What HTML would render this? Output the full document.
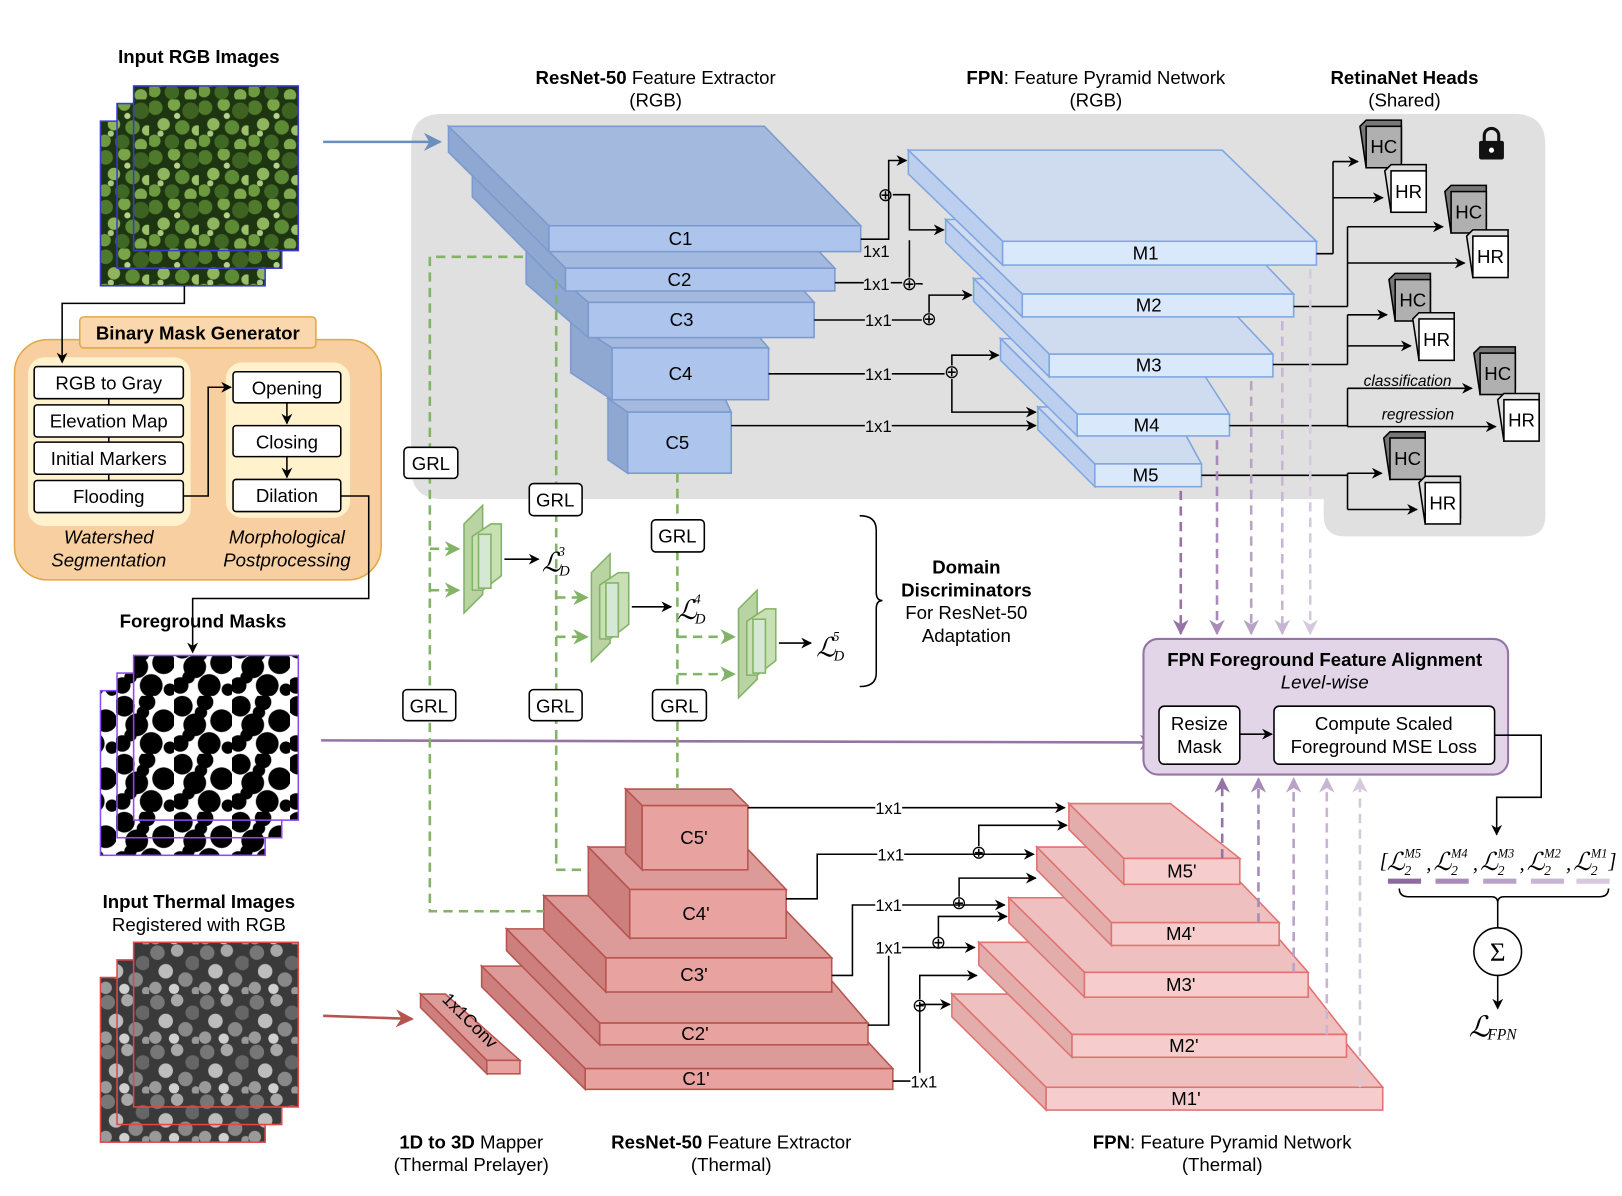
<!DOCTYPE html>
<html><head><meta charset="utf-8"><style>
html,body{margin:0;padding:0;background:#fff}
svg{display:block;font-family:"Liberation Sans",sans-serif;font-size:18px}
.b{font-weight:bold}
.it{font-style:italic}
.m{font-family:"Liberation Serif","DejaVu Serif",serif;font-style:italic}
</style></head><body>
<svg id="s" width="1622" height="1196" viewBox="0 0 1566 1155" preserveAspectRatio="none" xmlns="http://www.w3.org/2000/svg">
<defs>
<marker id="a" viewBox="0 0 10 10" refX="9" refY="5" markerWidth="7" markerHeight="7" orient="auto-start-reverse"><path d="M0,0L10,5L0,10L3,5z" fill="#000"/></marker>
<marker id="ab" viewBox="0 0 10 10" refX="9" refY="5" markerWidth="7" markerHeight="7" orient="auto"><path d="M0,0L10,5L0,10L3,5z" fill="#6c8ebf"/></marker>
<marker id="ar" viewBox="0 0 10 10" refX="9" refY="5" markerWidth="7" markerHeight="7" orient="auto"><path d="M0,0L10,5L0,10L3,5z" fill="#b85450"/></marker>
<marker id="ag" viewBox="0 0 10 10" refX="9" refY="5" markerWidth="6" markerHeight="6" orient="auto"><path d="M0,0L10,5L0,10L3,5z" fill="#82b366"/></marker>
<marker id="p0" viewBox="0 0 10 10" refX="9" refY="5" markerWidth="6" markerHeight="6" orient="auto"><path d="M0,0L10,5L0,10L3,5z" fill="#9673a6"/></marker>
<marker id="p1" viewBox="0 0 10 10" refX="9" refY="5" markerWidth="6" markerHeight="6" orient="auto"><path d="M0,0L10,5L0,10L3,5z" fill="#a88bb8"/></marker>
<marker id="p2" viewBox="0 0 10 10" refX="9" refY="5" markerWidth="6" markerHeight="6" orient="auto"><path d="M0,0L10,5L0,10L3,5z" fill="#b9a2c7"/></marker>
<marker id="p3" viewBox="0 0 10 10" refX="9" refY="5" markerWidth="6" markerHeight="6" orient="auto"><path d="M0,0L10,5L0,10L3,5z" fill="#c7b5d3"/></marker>
<marker id="p4" viewBox="0 0 10 10" refX="9" refY="5" markerWidth="6" markerHeight="6" orient="auto"><path d="M0,0L10,5L0,10L3,5z" fill="#d6c9de"/></marker>
<pattern id="forest" width="48" height="48" patternUnits="userSpaceOnUse">
<rect width="48" height="48" fill="#1e3512"/>
<circle cx="6" cy="8" r="7" fill="#4f7a2b"/><circle cx="24" cy="5" r="6" fill="#7aa448"/><circle cx="40" cy="11" r="8" fill="#3d6222"/>
<circle cx="14" cy="24" r="6" fill="#8fb55e"/><circle cx="32" cy="27" r="7" fill="#5d8a35"/><circle cx="46" cy="30" r="5" fill="#9cc06a"/>
<circle cx="5" cy="40" r="6" fill="#6d9a3e"/><circle cx="22" cy="41" r="7" fill="#3f6824"/><circle cx="40" cy="44" r="6" fill="#7fa94e"/>
<circle cx="27" cy="16" r="3" fill="#b5d38a"/><circle cx="11" cy="33" r="3" fill="#a9c97e"/>
</pattern>
<pattern id="mask" width="56" height="56" patternUnits="userSpaceOnUse">
<rect width="56" height="56" fill="#fff"/>
<circle cx="8" cy="10" r="10" fill="#000"/><circle cx="30" cy="6" r="8" fill="#000"/><circle cx="46" cy="24" r="11" fill="#000"/>
<circle cx="20" cy="28" r="11" fill="#000"/><circle cx="6" cy="46" r="8" fill="#000"/><circle cx="34" cy="46" r="11" fill="#000"/>
<circle cx="26" cy="16" r="6" fill="#000"/><circle cx="52" cy="50" r="6" fill="#000"/><circle cx="14" cy="38" r="6" fill="#000"/>
</pattern>
<pattern id="therm" width="48" height="48" patternUnits="userSpaceOnUse">
<rect width="48" height="48" fill="#3a3a3a"/>
<circle cx="8" cy="8" r="7" fill="#777"/><circle cx="27" cy="6" r="6" fill="#a8a8a8"/><circle cx="42" cy="18" r="7" fill="#666"/>
<circle cx="16" cy="26" r="7" fill="#bdbdbd"/><circle cx="35" cy="34" r="7" fill="#888"/><circle cx="6" cy="42" r="6" fill="#9a9a9a"/>
<circle cx="24" cy="43" r="5" fill="#d0d0d0"/><circle cx="45" cy="45" r="4" fill="#999"/>
</pattern>
</defs>

<path d="M427,110 H1462 Q1492,110 1492,140 V498 Q1492,518 1472,518 H1298 Q1278,518 1278,498 V482 H427 Q397,482 397,452 V140 Q397,110 427,110 Z" fill="#e0e0e0"/>

<g text-anchor="middle">
<text x="192" y="61" class="b">Input RGB Images</text>
<text x="633" y="81"><tspan class="b">ResNet-50</tspan> Feature Extractor</text>
<text x="633" y="103">(RGB)</text>
<text x="1058" y="81"><tspan class="b">FPN</tspan>: Feature Pyramid Network</text>
<text x="1058" y="103">(RGB)</text>
<text x="1356" y="81" class="b">RetinaNet Heads</text>
<text x="1356" y="103">(Shared)</text>
<text x="196" y="606" class="b">Foreground Masks</text>
<text x="192" y="877" class="b">Input Thermal Images</text>
<text x="192" y="899">Registered with RGB</text>
<text x="455" y="1109"><tspan class="b">1D to 3D</tspan> Mapper</text>
<text x="455" y="1131">(Thermal Prelayer)</text>
<text x="706" y="1109"><tspan class="b">ResNet-50</tspan> Feature Extractor</text>
<text x="706" y="1131">(Thermal)</text>
<text x="1180" y="1109"><tspan class="b">FPN</tspan>: Feature Pyramid Network</text>
<text x="1180" y="1131">(Thermal)</text>
<text x="933" y="554" class="b">Domain</text>
<text x="933" y="576" class="b">Discriminators</text>
<text x="933" y="598">For ResNet-50</text>
<text x="933" y="620">Adaptation</text>
</g>

<g stroke="#3a3ad0" stroke-width="1.5">
<rect x="97" y="117" width="159" height="159" fill="url(#forest)"/>
<rect x="113" y="100" width="159" height="159" fill="url(#forest)"/>
<rect x="129" y="83" width="159" height="159" fill="url(#forest)"/>
</g>
<g stroke="#8a4cf0" stroke-width="1.5">
<rect x="97" y="667" width="159" height="159" fill="url(#mask)"/>
<rect x="113" y="650" width="159" height="159" fill="url(#mask)"/>
<rect x="129" y="633" width="159" height="159" fill="url(#mask)"/>
</g>
<g stroke="#e04848" stroke-width="1.5">
<rect x="97" y="944" width="159" height="159" fill="url(#therm)"/>
<rect x="113" y="927" width="159" height="159" fill="url(#therm)"/>
<rect x="129" y="910" width="159" height="159" fill="url(#therm)"/>
</g>

<line x1="312" y1="137" x2="425" y2="137" stroke="#6c8ebf" stroke-width="2.5" marker-end="url(#ab)"/>
<line x1="312" y1="981" x2="398" y2="984" stroke="#b85450" stroke-width="2.5" marker-end="url(#ar)"/>
<line x1="310" y1="715" x2="1114" y2="717" stroke="#9673a6" stroke-width="2.5" marker-end="url(#p0)"/>

<g>
<rect x="14" y="328" width="354" height="232" rx="32" fill="#f8cfa0" stroke="#e0a848" stroke-width="1.5"/>
<rect x="27" y="345" width="157" height="163" rx="16" fill="#fff2cc"/>
<rect x="218" y="350" width="120" height="150" rx="16" fill="#fff2cc"/>
<rect x="77" y="306" width="228" height="30" rx="4" fill="#fad7ac" stroke="#e0a848" stroke-width="1.5"/>
<text x="191" y="328" text-anchor="middle" class="b">Binary Mask Generator</text>
<g fill="#fff" stroke="#000" stroke-width="1.5">
<rect x="33" y="354" width="144" height="31" rx="3"/><rect x="33" y="391" width="144" height="31" rx="3"/>
<rect x="33" y="427" width="144" height="31" rx="3"/><rect x="33" y="464" width="144" height="31" rx="3"/>
<rect x="225" y="359" width="104" height="30" rx="3"/><rect x="225" y="411" width="104" height="30" rx="3"/>
<rect x="225" y="463" width="104" height="31" rx="3"/>
</g>
<g text-anchor="middle">
<text x="105" y="376">RGB to Gray</text><text x="105" y="413">Elevation Map</text>
<text x="105" y="449">Initial Markers</text><text x="105" y="486">Flooding</text>
<text x="277" y="381">Opening</text><text x="277" y="433">Closing</text><text x="277" y="485">Dilation</text>
<text x="105" y="525" class="it">Watershed</text><text x="105" y="547" class="it">Segmentation</text>
<text x="277" y="525" class="it">Morphological</text><text x="277" y="547" class="it">Postprocessing</text>
</g>
<g fill="none" stroke="#000" stroke-width="1.5">
<path d="M105,385V391M105,422V427M105,458V464"/>
<path d="M177,479H201V374H223" marker-end="url(#a)"/>
<path d="M277,389V409" marker-end="url(#a)"/><path d="M277,441V461" marker-end="url(#a)"/>
<path d="M178,276V293H60V350" marker-end="url(#a)"/>
<path d="M329,479H356V578H186V630" marker-end="url(#a)"/>
</g>
</g>

<g id="slabs"></g>

<g fill="none" stroke="#000" stroke-width="1.5">
<path d="M831,231H858V155H875" marker-end="url(#a)"/>
<path d="M862,188H878V222H911" marker-end="url(#a)"/>
<path d="M806,273H871"/><path d="M884,274H890V275"/>
<path d="M878,268V232"/>
<path d="M786,309H890"/><path d="M897,302V285H938" marker-end="url(#a)"/>
<path d="M742,361H912"/><path d="M919,353V343H964" marker-end="url(#a)"/>
<path d="M706,411H1000" marker-end="url(#a)"/>
<path d="M919,366V398H1000" marker-end="url(#a)"/>
</g>
<g font-size="16" text-anchor="middle">
<rect x="834" y="234" width="26" height="16" fill="#e0e0e0"/><text x="846" y="248">1x1</text>
<rect x="834" y="266" width="26" height="16" fill="#e0e0e0"/><text x="846" y="280">1x1</text>
<rect x="835" y="301" width="26" height="16" fill="#e0e0e0"/><text x="848" y="315">1x1</text>
<rect x="835" y="353" width="26" height="16" fill="#e0e0e0"/><text x="848" y="367">1x1</text>
<rect x="835" y="403" width="26" height="16" fill="#e0e0e0"/><text x="848" y="417">1x1</text>
<g font-size="18"><text x="855" y="194">⊕</text><text x="878" y="280">⊕</text><text x="897" y="314">⊕</text><text x="919" y="365">⊕</text></g>
</g>

<g fill="none" stroke="#000" stroke-width="1.5">
<path d="M722,780H1028" marker-end="url(#a)"/>
<path d="M759,868H789V825H998" marker-end="url(#a)"/>
<path d="M945,817V797H1030" marker-end="url(#a)"/>
<path d="M803,942H823V874H970" marker-end="url(#a)"/>
<path d="M926,866V848H1000" marker-end="url(#a)"/>
<path d="M838,990H858V915H941" marker-end="url(#a)"/>
<path d="M906,905V885H972" marker-end="url(#a)"/>
<path d="M862,1044H880"/><path d="M888,1038V970H917" marker-end="url(#a)"/>
<path d="M888,965V942H943" marker-end="url(#a)"/>
</g>
<g font-size="16" text-anchor="middle">
<rect x="845" y="772" width="26" height="16" fill="#fff"/><text x="858" y="786">1x1</text>
<rect x="847" y="817" width="26" height="16" fill="#fff"/><text x="860" y="831">1x1</text>
<rect x="845" y="866" width="26" height="16" fill="#fff"/><text x="858" y="880">1x1</text>
<rect x="845" y="907" width="26" height="16" fill="#fff"/><text x="858" y="921">1x1</text>
<rect x="879" y="1036" width="26" height="16" fill="#fff"/><text x="892" y="1050">1x1</text>
<g font-size="18"><text x="945" y="829">⊕</text><text x="926" y="878">⊕</text><text x="906" y="916">⊕</text><text x="888" y="977">⊕</text></g>
</g>

<g id="heads"></g>
<g>
<path d="M1433,137V131a7,7 0 0 1 14,0V137" fill="none" stroke="#111" stroke-width="3"/>
<rect x="1428" y="136" width="24" height="18" rx="2" fill="#111"/>
<circle cx="1440" cy="145" r="2.5" fill="#fff"/>
</g>
<text x="1359" y="373" class="it" font-size="15" text-anchor="middle">classification</text>
<text x="1369" y="405" class="it" font-size="15" text-anchor="middle">regression</text>

<g>
<g fill="none" stroke="#82b366" stroke-width="2.5" stroke-dasharray="9,6">
<path d="M505,248H415V880H525"/>
<path d="M537,270V840H568"/>
<path d="M654,457V762"/>
<path d="M415,530H443" marker-end="url(#ag)"/><path d="M415,570H443" marker-end="url(#ag)"/>
<path d="M537,577H567" marker-end="url(#ag)"/><path d="M537,615H567" marker-end="url(#ag)"/>
<path d="M654,615H709" marker-end="url(#ag)"/><path d="M654,651H709" marker-end="url(#ag)"/>
</g>
<g fill="#fff" stroke="#000" stroke-width="1.5">
<rect x="390" y="432" width="52" height="30" rx="4"/><rect x="511" y="467" width="51" height="31" rx="4"/>
<rect x="629" y="502" width="51" height="31" rx="4"/><rect x="389" y="666" width="51" height="30" rx="4"/>
<rect x="511" y="666" width="51" height="30" rx="4"/><rect x="630" y="666" width="52" height="30" rx="4"/>
</g>
<g text-anchor="middle">
<text x="416" y="454">GRL</text><text x="536" y="489">GRL</text><text x="654" y="524">GRL</text>
<text x="414" y="688">GRL</text><text x="536" y="688">GRL</text><text x="656" y="688">GRL</text>
</g>
<g id="discs"></g>
<g fill="none" stroke="#000" stroke-width="1.5">
<path d="M487,540H520" marker-end="url(#a)"/><path d="M610,586H648" marker-end="url(#a)"/><path d="M752,621H783" marker-end="url(#a)"/>
</g>
<g class="m" font-size="26">
<text x="523" y="552">ℒ</text><text x="539" y="537" font-size="13">3</text><text x="540" y="556" font-size="14">D</text>
<text x="654" y="598">ℒ</text><text x="670" y="583" font-size="13">4</text><text x="671" y="602" font-size="14">D</text>
<text x="788" y="634">ℒ</text><text x="804" y="619" font-size="13">5</text><text x="805" y="638" font-size="14">D</text>
</g>
<path d="M830,498Q846,498 846,512V572Q846,580 852,580Q846,580 846,588V650Q846,663 830,663" fill="none" stroke="#000" stroke-width="1.5"/>
</g>

<g id="pdash" fill="none" stroke-width="2.5" stroke-dasharray="9,6"></g>

<g>
<rect x="1104" y="617" width="352" height="131" rx="14" fill="#e1d5e7" stroke="#9673a6" stroke-width="2"/>
<text x="1279" y="643" text-anchor="middle" class="b">FPN Foreground Feature Alignment</text>
<text x="1279" y="665" text-anchor="middle" class="it">Level-wise</text>
<rect x="1119" y="682" width="78" height="56" rx="5" fill="#fff" stroke="#000" stroke-width="1.5"/>
<rect x="1230" y="682" width="213" height="56" rx="5" fill="#fff" stroke="#000" stroke-width="1.5"/>
<g text-anchor="middle"><text x="1158" y="705">Resize</text><text x="1158" y="727">Mask</text>
<text x="1336" y="705">Compute Scaled</text><text x="1336" y="727">Foreground MSE Loss</text></g>
<path d="M1197,709H1228" stroke="#000" stroke-width="1.5" marker-end="url(#a)"/>
<path d="M1443,710H1488V770H1445V806" fill="none" stroke="#000" stroke-width="1.5" marker-end="url(#a)"/>
</g>

<g>
<g id="losslist" class="m"></g>
<g stroke-width="5">
<line x1="1340" y1="851" x2="1372" y2="851" stroke="#8e6aa0"/>
<line x1="1386" y1="851" x2="1418" y2="851" stroke="#a88bb8"/>
<line x1="1432" y1="851" x2="1464" y2="851" stroke="#b9a2c7"/>
<line x1="1478" y1="851" x2="1510" y2="851" stroke="#c7b5d3"/>
<line x1="1522" y1="851" x2="1554" y2="851" stroke="#d6c9de"/></g>
<path d="M1351,858Q1351,866 1360,866H1440Q1446,866 1446,872Q1446,866 1452,866H1544Q1553,866 1553,858" fill="none" stroke="#000" stroke-width="1.5"/>
<line x1="1446" y1="872" x2="1446" y2="896" stroke="#000" stroke-width="1.5"/>
<circle cx="1446" cy="919" r="23" fill="#fff" stroke="#000" stroke-width="1.5"/>
<text x="1446" y="928" text-anchor="middle" font-family="Liberation Serif,serif" font-size="26">Σ</text>
<path d="M1446,942V974" stroke="#000" stroke-width="1.5" marker-end="url(#a)"/>
<text x="1418" y="1001" class="m" font-size="28">ℒ</text><text x="1436" y="1004" class="m" font-size="15">FPN</text>
</g>
</svg>
<script>
const NS='http://www.w3.org/2000/svg';
function mk(tag,attrs,parent){const e=document.createElementNS(NS,tag);for(const k in attrs)e.setAttribute(k,attrs[k]);parent.appendChild(e);return e;}
const slabsG=document.getElementById('slabs');
const blue={top:'#a3b9dd',front:'#adc5ec',side:'#8ea8d2',st:'#7c9ad0'};
const lblue={top:'#cfdcf0',front:'#dae8fc',side:'#bccfee',st:'#7ea6e0'};
const red={top:'#dc9a98',front:'#e8a2a0',side:'#cc7f7d',st:'#b85450'};
const lred={top:'#eec0bf',front:'#f6cdcc',side:'#e3adac',st:'#e07270'};
const slabDefs=[
['C5',587,385,700,606,398,706,457,blue,654],['C4',551,310,720,591,336,742,386,blue,657],['C3',508,240,740,568,292,786,326,blue,658],['C2',456,168,720,546,259,806,281,blue,656],['C1',433,122,738,530,218,831,243,blue,657],
['M5',1002,393,1130,1057,448,1160,470,lblue,1106],['M4',966,327,1140,1040,400,1187,421,lblue,1107],['M3',940,269,1160,1013,342,1229,364,lblue,1109],['M2',913,212,1180,987,284,1249,306,lblue,1109],['M1',877,145,1180,968,233,1271,256,lblue,1106],
["C1'",465,933,770,565,1032,862,1052,red,672],["C2'",489,897,760,579,988,838,1009,red,671],["C3'",525,865,745,585,925,803,958,red,670],["C4'",568,818,720,608,859,759,906,red,672],["C5'",604,762,706,620,778,722,840,red,670],
["M1'",919,960,1260,1010,1050,1335,1072,lred,1145],["M2'",945,910,1230,1035,999,1300,1021,lred,1143],["M3'",974,867,1200,1047,939,1263,963,lred,1140],["M4'",1001,818,1165,1073,891,1235,913,lred,1140],["M5'",1032,776,1130,1085,829,1197,854,lred,1141],
['conv',406,960,430,470,1024,502,1037,red,0]
];
slabDefs.forEach(d=>{
 const [n,x0,y0,x1,fx1,fy1,fx2,fy2,c,lx]=d;const h=fy2-fy1;
 const g=mk('g',{},slabsG);
 
 
 mk('polygon',{points:`${x0},${y0} ${x1},${y0} ${fx2},${fy1} ${fx1},${fy1}`,fill:c.top,stroke:c.st,'stroke-width':1.5},g);
 mk('polygon',{points:`${x0},${y0} ${fx1},${fy1} ${fx1},${fy2} ${x0},${y0+h}`,fill:c.side,stroke:c.st,'stroke-width':1.5},g);
 mk('rect',{x:fx1,y:fy1,width:fx2-fx1,height:h,fill:c.front,stroke:c.st,'stroke-width':1.5},g);
 if(n!=='conv'){const t=mk('text',{x:lx,y:(fy1+fy2)/2+6,'text-anchor':'middle'},g);t.textContent=n;}
});
const ct=mk('text',{x:0,y:0,transform:'translate(426,966) rotate(45)','font-size':17},slabsG);ct.textContent='1x1Conv';



const headsG=document.getElementById('heads');
const heads=[[1271,245,1287,1313,122,1337,165],[1249,296,1301,1395,185,1416,228],[1229,352,1301,1341,270,1364,308],[1187,411,1301,1423,341,1446,386],[1160,459,1301,1336,423,1370,466]];
heads.forEach((h,i)=>{
 const [mx,my,x0,hcx,hcy,hrx,hry]=h;const s=40;
 const g=mk('g',{},headsG);
 
 
 const yc=hcy+s/2+14,yr=hry+s/2+6;
 const top=Math.min(yc,yr,my),bot=Math.max(yc,yr,my);
 mk('path',{d:`M${mx},${my}H${x0}M${x0},${top}V${bot}`,fill:'none',stroke:'#000','stroke-width':1.5},g);
 mk('path',{d:`M${x0},${yc}H${hcx-2}`,stroke:'#000','stroke-width':1.5,'marker-end':'url(#a)'},g);
 mk('path',{d:`M${x0},${yr}H${hrx-2}`,stroke:'#000','stroke-width':1.5,'marker-end':'url(#a)'},g);
 mk('polygon',{points:`${hcx},${hcy} ${hcx+6},${hcy-6} ${hcx+s},${hcy-6} ${hcx+s},${hcy+s-6} ${hcx+6},${hcy+s}`,fill:'#777',stroke:'#000','stroke-width':1.5},g);
 mk('rect',{x:hcx+6,y:hcy,width:s-6,height:s,fill:'#b0b0b0',stroke:'#000','stroke-width':1.5},g);
 const t1=mk('text',{x:hcx+s/2+3,y:hcy+26,'text-anchor':'middle'},g);t1.textContent='HC';
 mk('polygon',{points:`${hrx},${hry} ${hrx+6},${hry-6} ${hrx+s},${hry-6} ${hrx+s},${hry+s-6} ${hrx+6},${hry+s}`,fill:'#ddd',stroke:'#000','stroke-width':1.5},g);
 mk('rect',{x:hrx+6,y:hry,width:s-6,height:s,fill:'#fff',stroke:'#000','stroke-width':1.5},g);
 const t2=mk('text',{x:hrx+s/2+3,y:hry+26,'text-anchor':'middle'},g);t2.textContent='HR';
});

const dg=document.getElementById('discs');
[[448,488],[571,535],[713,570]].forEach((p,i)=>{
 const [x,y]=p;const g=mk('g',{},dg);
 
 
 mk('polygon',{points:`${x},${y+18} ${x+18},${y} ${x+18},${y+86} ${x},${y+104}`,fill:'#b9d3a3',stroke:'#82b366','stroke-width':1.5},g);
 mk('polygon',{points:`${x+8},${y+30} ${x+26},${y+18} ${x+36},${y+18} ${x+36},${y+68} ${x+18},${y+82} ${x+8},${y+82}`,fill:'#c9e0b5',stroke:'#82b366','stroke-width':1.5},g);
 mk('rect',{x:x+14,y:y+28,width:12,height:52,fill:'#d5e8d4',stroke:'#82b366','stroke-width':1.5},g);
});

const pg=document.getElementById('pdash');
const pcol=['#9673a6','#a88bb8','#b9a2c7','#c7b5d3','#d6c9de'];
const downX=[1140,1175,1208,1238,1265],downY=[470,421,364,306,256];
downX.forEach((x,i)=>{mk('path',{d:`M${x},${downY[i]+4}V612`,stroke:pcol[i],'marker-end':`url(#p${i})`},pg);});
const upX=[1180,1215,1249,1281,1313],upY=[829,891,939,999,1050];
upX.forEach((x,i)=>{mk('path',{d:`M${x},${upY[i]}V752`,stroke:pcol[i],'marker-end':`url(#p${i})`},pg);});

const ll=document.getElementById('losslist');
const lvl=['M5','M4','M3','M2','M1'];
mk('text',{x:1332,y:838,'font-size':20},ll).textContent='[';
lvl.forEach((l,i)=>{const x=1339+i*45;
 mk('text',{x:x,y:840,'font-size':24},ll).textContent='ℒ';
 mk('text',{x:x+17,y:828,'font-size':12},ll).textContent=l;
 mk('text',{x:x+17,y:845,'font-size':13},ll).textContent='2';
 if(i<4) mk('text',{x:x+38,y:840,'font-size':20},ll).textContent=',';
});
mk('text',{x:1553,y:838,'font-size':20},ll).textContent=']';
</script>
</body></html>
